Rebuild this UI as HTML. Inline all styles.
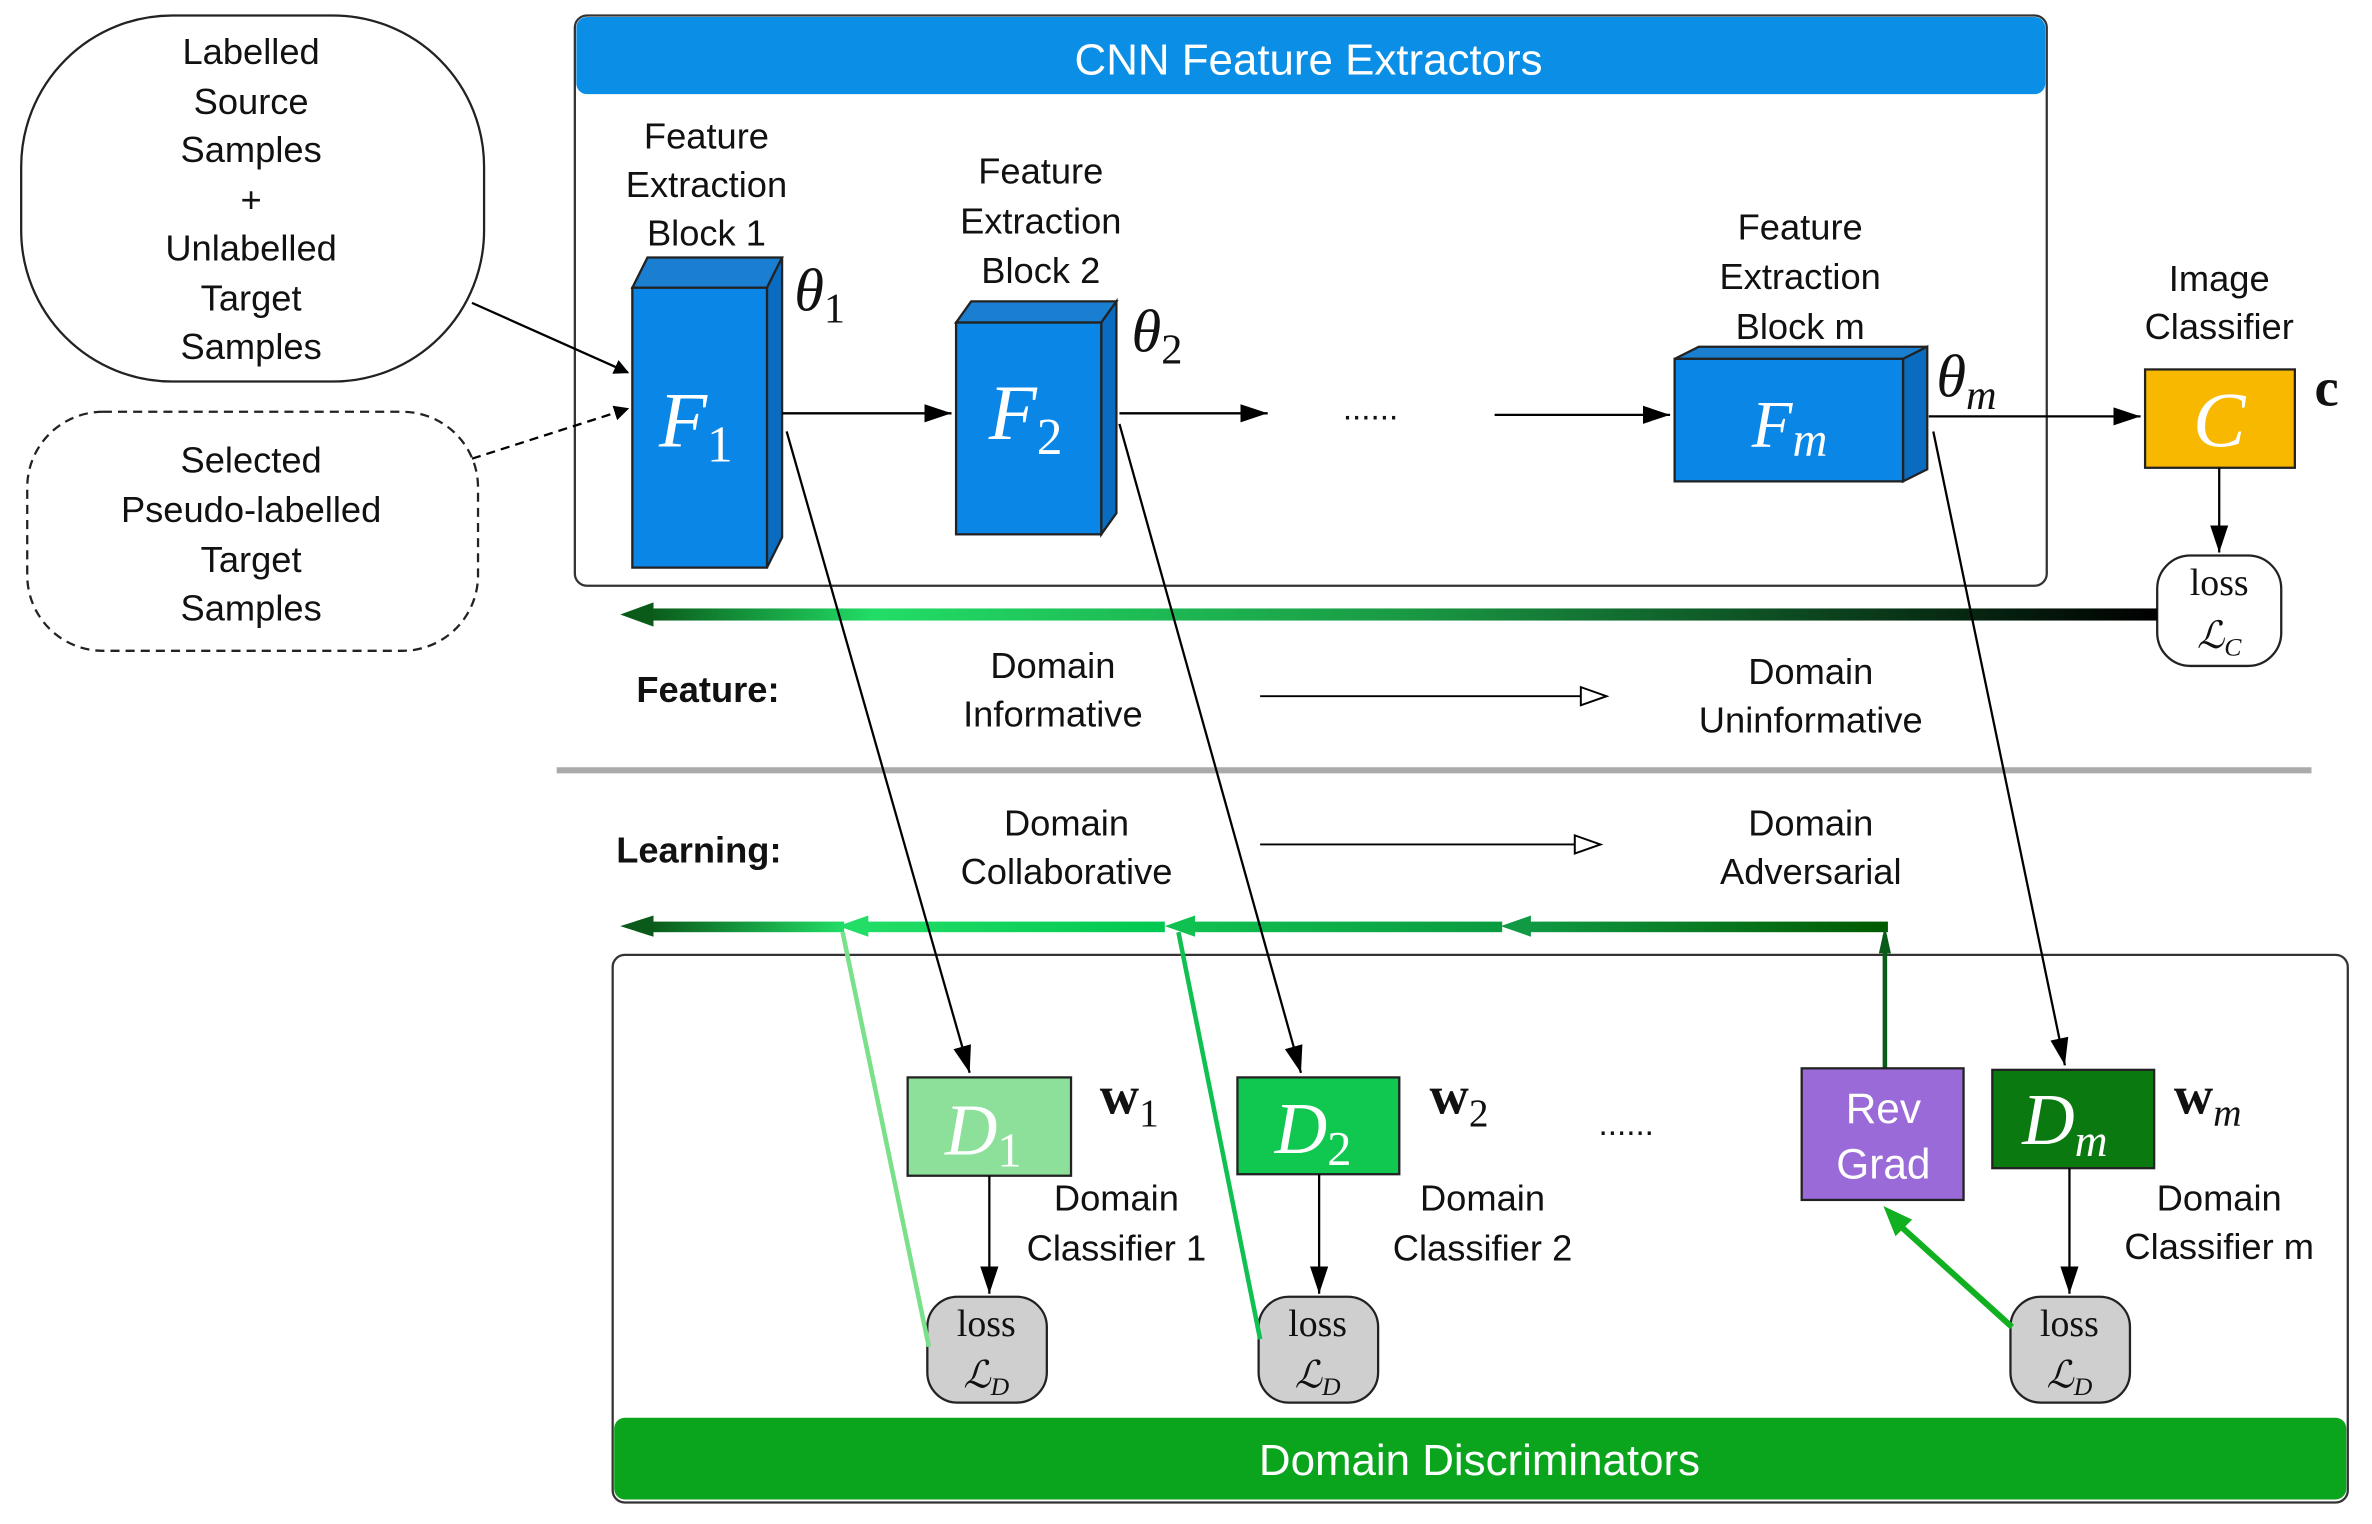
<!DOCTYPE html>
<html><head><meta charset="utf-8"><style>
html,body{margin:0;padding:0;background:#fff;}
svg{display:block;}
.t{font-family:"Liberation Sans",sans-serif;font-size:24px;fill:#111;text-anchor:middle;}
.m{font-family:"Liberation Serif",serif;font-style:italic;fill:#fff;text-anchor:middle;}
.th{font-family:"Liberation Serif",serif;font-style:italic;fill:#111;font-size:40px;}
.b{font-family:"Liberation Serif",serif;font-weight:bold;fill:#111;font-size:36px;}
.l{font-family:"Liberation Serif",serif;fill:#111;text-anchor:middle;font-size:25px;}
</style></head><body>
<svg width="2372" height="1524" viewBox="0 0 1568 1007" xmlns="http://www.w3.org/2000/svg">
<defs>
<marker id="ah" markerWidth="10" markerHeight="10" refX="9" refY="5" orient="auto" markerUnits="userSpaceOnUse" viewBox="0 0 10 10"><path d="M0,0 L10,5 L0,10 Z" fill="#000"/></marker>
<marker id="ahb" markerWidth="20" markerHeight="16" refX="18" refY="8" orient="auto" markerUnits="userSpaceOnUse"><path d="M0,2 L18,8 L0,14 Z" fill="#000"/></marker>
<marker id="open" markerWidth="20" markerHeight="16" refX="18" refY="7" orient="auto" markerUnits="userSpaceOnUse"><path d="M1,1 L18,7 L1,13 Z" fill="#fff" stroke="#000" stroke-width="1.3"/></marker>
<linearGradient id="g1" x1="0" x2="1"><stop offset="0" stop-color="#0a5a1a"/><stop offset="0.15" stop-color="#22dd66"/><stop offset="0.5" stop-color="#1a9a44"/><stop offset="1" stop-color="#000"/></linearGradient>
<linearGradient id="g2" x1="0" x2="1"><stop offset="0" stop-color="#0a5a1a"/><stop offset="1" stop-color="#22dd66"/></linearGradient>
<linearGradient id="g3" x1="0" x2="1"><stop offset="0" stop-color="#22dd66"/><stop offset="1" stop-color="#00c850"/></linearGradient>
<linearGradient id="g4" x1="0" x2="1"><stop offset="0" stop-color="#10c050"/><stop offset="1" stop-color="#0a9a40"/></linearGradient>
<linearGradient id="g5" x1="0" x2="1"><stop offset="0" stop-color="#109a44"/><stop offset="1" stop-color="#005a00"/></linearGradient>
</defs>

<!-- input boxes -->
<rect x="14" y="10" width="306" height="242" rx="100" ry="100" fill="#fff" stroke="#222" stroke-width="1.5"/>
<text class="t" x="166" y="42">Labelled</text><text class="t" x="166" y="75">Source</text><text class="t" x="166" y="107">Samples</text><text class="t" x="166" y="140">+</text><text class="t" x="166" y="172">Unlabelled</text><text class="t" x="166" y="205">Target</text><text class="t" x="166" y="237">Samples</text>
<rect x="18" y="272" width="298" height="158" rx="50" ry="50" fill="#fff" stroke="#222" stroke-width="1.5" stroke-dasharray="6,4"/>
<text class="t" x="166" y="312">Selected</text><text class="t" x="166" y="345">Pseudo-labelled</text><text class="t" x="166" y="378">Target</text><text class="t" x="166" y="410">Samples</text>

<!-- top container -->
<rect x="380" y="10" width="973" height="377" rx="8" fill="#fff" stroke="#333" stroke-width="1.5"/>
<rect x="381" y="11" width="971" height="51" rx="7" fill="#0a8ee6"/>
<text class="t" x="865" y="49" style="fill:#fff;font-size:29px">CNN Feature Extractors</text>

<line x1="312" y1="200" x2="415" y2="246" stroke="#000" stroke-width="1.5" marker-end="url(#ah)"/>
<line x1="312" y1="303" x2="415" y2="270" stroke="#000" stroke-width="1.5" stroke-dasharray="6,4" marker-end="url(#ah)"/>

<!-- F1 -->
<g stroke="#222" stroke-width="1.5">
<polygon points="418,190 428,170 517,170 507,190" fill="#1a7fd0"/>
<polygon points="507,190 517,170 517,355 507,375" fill="#0a6cc0"/>
<rect x="418" y="190" width="89" height="185" fill="#0a86e6"/>
<polygon points="632,213 642,199 738,199 728,213" fill="#1a7fd0"/>
<polygon points="728,213 738,199 738,339 728,353" fill="#0a6cc0"/>
<rect x="632" y="213" width="96" height="140" fill="#0a86e6"/>
<polygon points="1107,237 1123,229 1274,229 1258,237" fill="#1a7fd0"/>
<polygon points="1258,237 1274,229 1274,310 1258,318" fill="#0a6cc0"/>
<rect x="1107" y="237" width="151" height="81" fill="#0a86e6"/>
<rect x="1418" y="244" width="99" height="65" fill="#f8b800"/>
</g>
<text class="m" x="460" y="295" font-size="52">F<tspan font-size="34" font-style="normal" dy="10">1</tspan></text>
<text class="m" x="678" y="290" font-size="52">F<tspan font-size="34" font-style="normal" dy="10">2</tspan></text>
<text class="m" x="1183" y="295" font-size="44">F<tspan font-size="32" dy="6">m</tspan></text>
<text class="m" x="1467" y="295" font-size="52">C</text>

<text class="t" x="467" y="98">Feature</text><text class="t" x="467" y="130">Extraction</text><text class="t" x="467" y="162">Block 1</text>
<text class="t" x="688" y="121">Feature</text><text class="t" x="688" y="154">Extraction</text><text class="t" x="688" y="187">Block 2</text>
<text class="t" x="1190" y="158">Feature</text><text class="t" x="1190" y="191">Extraction</text><text class="t" x="1190" y="224">Block m</text>
<text class="t" x="1467" y="192">Image</text><text class="t" x="1467" y="224">Classifier</text>

<text class="th" x="525" y="205">θ<tspan font-size="28" font-style="normal" dy="8">1</tspan></text>
<text class="th" x="748" y="232">θ<tspan font-size="28" font-style="normal" dy="8">2</tspan></text>
<text class="th" x="1280" y="262">θ<tspan font-size="28" dy="8">m</tspan></text>
<text class="b" x="1530" y="268">c</text>

<g stroke="#000" stroke-width="1.5">
<line x1="517" y1="273" x2="629" y2="273" marker-end="url(#ahb)"/>
<line x1="740" y1="273" x2="838" y2="273" marker-end="url(#ahb)"/>
<line x1="988" y1="274" x2="1104" y2="274" marker-end="url(#ahb)"/>
<line x1="1275" y1="275" x2="1415" y2="275" marker-end="url(#ahb)"/>
<line x1="1467" y1="309" x2="1467" y2="365" marker-end="url(#ahb)"/>
</g>
<text class="t" x="906" y="277" style="font-size:22px">......</text>

<!-- loss C -->
<rect x="1426" y="367" width="82" height="73" rx="22" fill="#fff" stroke="#222" stroke-width="1.5"/>
<text class="l" x="1467" y="393">loss</text>
<text class="l" x="1467" y="428" font-style="italic">ℒ<tspan font-size="17" dy="5">C</tspan></text>

<!-- gradient arrow top -->
<rect x="428" y="402" width="998" height="8" fill="url(#g1)"/>
<polygon points="410,406 432,398 432,414" fill="#0a5a1a"/>

<text class="t" x="468" y="464" style="font-weight:bold">Feature:</text>
<text class="t" x="696" y="448">Domain</text><text class="t" x="696" y="480">Informative</text>
<line x1="833" y1="460" x2="1062" y2="460" stroke="#000" stroke-width="1.3" marker-end="url(#open)"/>
<text class="t" x="1197" y="452">Domain</text><text class="t" x="1197" y="484">Uninformative</text>

<line x1="368" y1="509" x2="1528" y2="509" stroke="#aaa" stroke-width="4"/>

<text class="t" x="462" y="570" style="font-weight:bold">Learning:</text>
<text class="t" x="705" y="552">Domain</text><text class="t" x="705" y="584">Collaborative</text>
<line x1="833" y1="558" x2="1058" y2="558" stroke="#000" stroke-width="1.3" marker-end="url(#open)"/>
<text class="t" x="1197" y="552">Domain</text><text class="t" x="1197" y="584">Adversarial</text>

<!-- green arrow line -->
<rect x="430" y="609" width="128" height="7" fill="url(#g2)"/>
<polygon points="410,612 432,605 432,619" fill="#0a5a1a"/>
<rect x="570" y="609" width="200" height="7" fill="url(#g3)"/>
<polygon points="554,612 574,605 574,619" fill="#22dd66"/>
<rect x="786" y="609" width="207" height="7" fill="url(#g4)"/>
<polygon points="770,612 790,605 790,619" fill="#10c050"/>
<rect x="1008" y="609" width="240" height="7" fill="url(#g5)"/>
<polygon points="992,612 1012,605 1012,619" fill="#109a44"/>

<!-- bottom container -->
<rect x="405" y="631" width="1147" height="362" rx="8" fill="#fff" stroke="#333" stroke-width="1.5"/>
<rect x="406" y="937" width="1145" height="54" rx="7" fill="#0aa51c"/>
<text class="t" x="978" y="975" style="fill:#fff;font-size:29px">Domain Discriminators</text>

<!-- diagonal arrows -->
<g stroke="#000" stroke-width="1.5">
<line x1="520" y1="285" x2="641" y2="709" marker-end="url(#ahb)"/>
<line x1="740" y1="280" x2="860" y2="709" marker-end="url(#ahb)"/>
<line x1="1278" y1="285" x2="1365" y2="704" marker-end="url(#ahb)"/>
</g>

<!-- rev grad up -->
<line x1="1246" y1="706" x2="1246" y2="618" stroke="#0a5a1a" stroke-width="3"/>
<polygon points="1246,612 1242,630 1250,630" fill="#0a5a1a"/>

<g stroke="#222" stroke-width="1.5">
<rect x="600" y="712" width="108" height="65" fill="#8de09a"/>
<rect x="818" y="712" width="107" height="64" fill="#10c850"/>
<rect x="1317" y="707" width="107" height="65" fill="#0a7a10"/>
<rect x="1191" y="706" width="107" height="87" fill="#9a6ad8"/>
</g>
<text class="m" x="650" y="763" font-size="48">D<tspan font-size="32" font-style="normal" dy="8">1</tspan></text>
<text class="m" x="868" y="762" font-size="48">D<tspan font-size="32" font-style="normal" dy="8">2</tspan></text>
<text class="m" x="1365" y="756" font-size="48">D<tspan font-size="30" dy="8">m</tspan></text>
<text class="t" x="1245" y="742" style="fill:#fff;font-size:28px">Rev</text>
<text class="t" x="1245" y="779" style="fill:#fff;font-size:28px">Grad</text>

<text class="b" x="727" y="736">w<tspan font-size="26" font-weight="normal" dy="8">1</tspan></text>
<text class="b" x="945" y="736">w<tspan font-size="26" font-weight="normal" dy="8">2</tspan></text>
<text class="b" x="1437" y="736">w<tspan font-size="26" font-weight="normal" font-style="italic" dy="8">m</tspan></text>
<text class="t" x="1075" y="750" style="font-size:22px">......</text>

<text class="t" x="738" y="800">Domain</text><text class="t" x="738" y="833">Classifier 1</text>
<text class="t" x="980" y="800">Domain</text><text class="t" x="980" y="833">Classifier 2</text>
<text class="t" x="1467" y="800">Domain</text><text class="t" x="1467" y="832">Classifier m</text>

<g stroke="#000" stroke-width="1.5">
<line x1="654" y1="777" x2="654" y2="855" marker-end="url(#ahb)"/>
<line x1="872" y1="776" x2="872" y2="855" marker-end="url(#ahb)"/>
<line x1="1368" y1="772" x2="1368" y2="855" marker-end="url(#ahb)"/>
</g>

<g stroke="#222" stroke-width="1.5" fill="#cfcfcf">
<rect x="613" y="857" width="79" height="70" rx="20"/>
<rect x="832" y="857" width="79" height="70" rx="20"/>
<rect x="1329" y="857" width="79" height="70" rx="20"/>
</g>
<text class="l" x="652" y="883">loss</text><text class="l" x="652" y="917" font-style="italic">ℒ<tspan font-size="17" dy="5">D</tspan></text>
<text class="l" x="871" y="883">loss</text><text class="l" x="871" y="917" font-style="italic">ℒ<tspan font-size="17" dy="5">D</tspan></text>
<text class="l" x="1368" y="883">loss</text><text class="l" x="1368" y="917" font-style="italic">ℒ<tspan font-size="17" dy="5">D</tspan></text>

<!-- green return lines -->
<line x1="614" y1="890" x2="557" y2="616" stroke="#7ae08a" stroke-width="3"/>
<line x1="833" y1="885" x2="779" y2="616" stroke="#10c050" stroke-width="3"/>
<line x1="1330" y1="877" x2="1256" y2="810" stroke="#10b020" stroke-width="4"/>
<polygon points="1245,797 1264,806 1253,817" fill="#10b020"/>
</svg>
</body></html>
